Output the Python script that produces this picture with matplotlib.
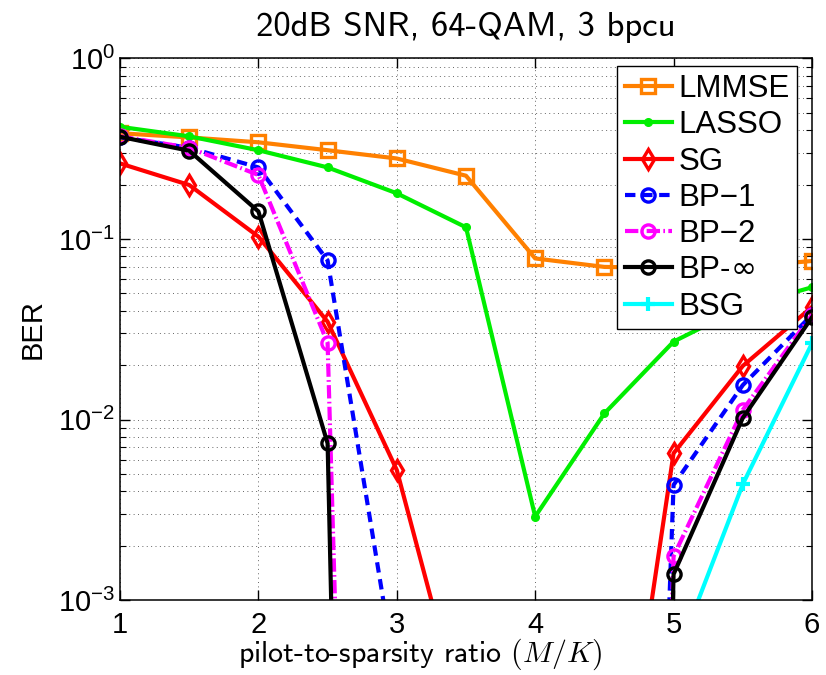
import numpy as np
import matplotlib
matplotlib.use("Agg")
import matplotlib.pyplot as plt
from matplotlib.ticker import LogLocator, FuncFormatter, NullFormatter

# pilot-to-sparsity ratio M/K
ratio = [1, 1.5, 2, 2.5, 3, 3.5, 4, 4.5, 5, 5.5, 6]

# BER curves (points under 1e-3 are off the plot, only their segments show)
ber_lmmse = [0.385, 0.365, 0.343, 0.31, 0.279, 0.224, 0.078, 0.070, 0.069, 0.070, 0.0755]
ber_lasso = [0.418, 0.37, 0.31, 0.249, 0.179, 0.116, 0.0029, 0.0108, 0.027, 0.042, 0.054]
ber_sg = [0.262, 0.199, 0.103, 0.0348, 0.00525, 1.9e-4, 5e-5, 1.7e-5, 0.0065, 0.0198, 0.042]
ber_bp1 = [0.366, 0.32, 0.249, 0.076, 3.5e-4, 1e-6, 1e-9, 1e-13, 0.00434, 0.0155, 0.038]
ber_bp2 = [0.37, 0.32, 0.226, 0.0266, 1e-15, 1e-15, 1e-15, 1e-15, 0.00175, 0.0113, 0.038]
ber_bpinf = [0.368, 0.308, 0.142, 0.00738, 1e-19, 1e-19, 1e-19, 1e-19, 0.00139, 0.0102, 0.0368]
ber_bsg = [1e-6, 1e-6, 1e-6, 1e-6, 1e-6, 1e-6, 1e-6, 1e-6, 4.4e-4, 0.00438, 0.0264]

labels = ["LMMSE", "LASSO", "SG", "BP\u22121", "BP\u22122", r"BP-$\infty$", "BSG"]

sans = ["Liberation Sans", "DejaVu Sans"]
plt.rcParams["font.family"] = sans

fig = plt.figure(figsize=(8.26, 6.75), dpi=100)
ax = fig.add_axes([0.1453, 0.111, 0.8377, 0.8025])

lw = 3
ms = 9.5
mew = 2.4
ax.plot(ratio, ber_lmmse, color="#ff8000", lw=lw, marker="s", ms=ms, mew=mew,
        mfc="none", label=labels[0])
ax.plot(ratio, ber_lasso, color="#00ee00", lw=lw, marker=".", ms=11,
        label=labels[1])
ax.plot(ratio, ber_sg, color="#ff0000", lw=lw, marker="d", ms=ms + 1, mew=mew,
        mfc="none", label=labels[2])
ax.plot(ratio, ber_bp1, color="#0000ff", lw=lw, marker="o", ms=ms, mew=mew,
        mfc="none", dashes=(2.5, 1.6), label=labels[3])
ax.plot(ratio, ber_bp2, color="#ff00ff", lw=lw, marker="o", ms=ms, mew=mew,
        mfc="none", dashes=(3.2, 0.8, 0.4, 0.8), label=labels[4])
ax.plot(ratio, ber_bpinf, color="black", lw=lw, marker="o", ms=ms, mew=mew,
        mfc="none", label=labels[5])
ax.plot(ratio, ber_bsg, color="#00ffff", lw=lw, marker="+", ms=ms + 1, mew=mew + 0.6,
        label=labels[6])

ax.set_yscale("log")
ax.set_xlim(1, 6)
ax.set_ylim(1e-3, 1)
ax.set_xticks([1, 2, 3, 4, 5, 6])
ax.yaxis.set_major_locator(LogLocator(base=10, numticks=10))
ax.yaxis.set_minor_locator(LogLocator(base=10, subs=np.arange(2, 10), numticks=20))
ax.yaxis.set_minor_formatter(NullFormatter())
ax.yaxis.set_major_formatter(FuncFormatter(
    lambda v, p: r"$\mathregular{10^{%d}}$" % int(round(np.log10(v)))))

ax.grid(True, which="major", axis="both", ls=(0, (1, 3.5)), color="0.4", lw=0.7)
ax.grid(True, which="minor", axis="y", ls=(0, (1, 3.5)), color="0.4", lw=0.7)

ax.tick_params(which="both", direction="in", top=True, right=True, labelsize=21)
ax.tick_params(which="major", length=7, width=1)
ax.tick_params(which="minor", length=4, width=0.8)
ax.tick_params(axis="x", pad=8)
for s in ax.spines.values():
    s.set_linewidth(1.1)

ax.set_title("20dB SNR, 64-QAM, 3 bpcu", fontsize=25, family="cmss10", pad=16)
ax.set_xlabel(r"pilot-to-sparsity ratio $(M/K)$", fontsize=21.5, family="cmss10",
              math_fontfamily="cm")
ax.xaxis.set_label_coords(0.434, -0.068)
ax.set_ylabel("BER", fontsize=21, labelpad=8)

leg = ax.legend(loc="upper right", fontsize=22.5, numpoints=1, handlelength=1.5,
                handletextpad=0.2, borderpad=0.25, labelspacing=0.2,
                borderaxespad=0.25, fancybox=False, framealpha=1,
                edgecolor="black", bbox_to_anchor=(0.99, 1.0))
leg.get_frame().set_linewidth(1.0)

fig.savefig("out.png", dpi=100)
